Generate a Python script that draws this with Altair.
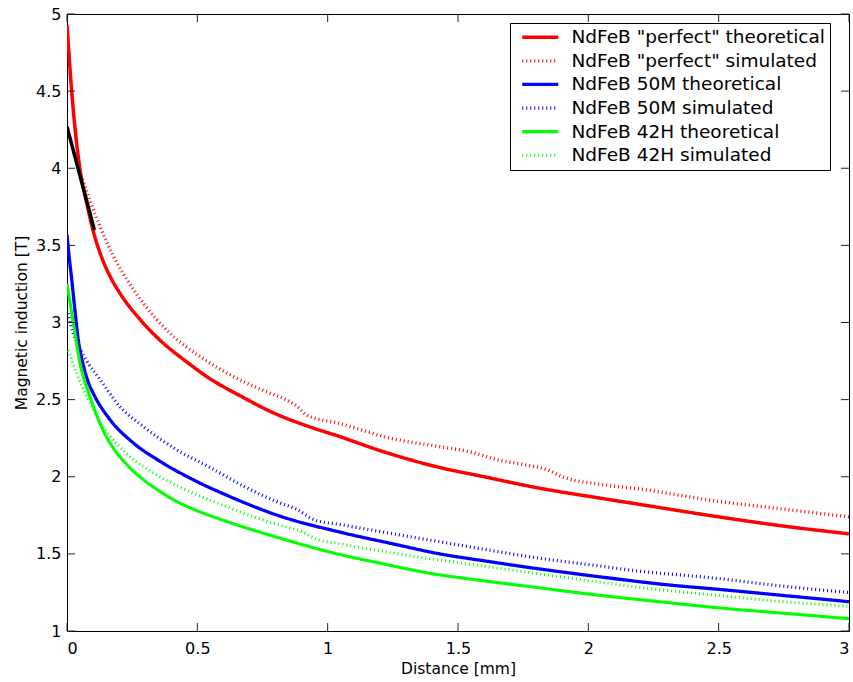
import altair as alt
import pandas as pd

# ---- data ----
series_names = [
    'NdFeB "perfect" theoretical',
    'NdFeB "perfect" simulated',
    'NdFeB 50M theoretical',
    'NdFeB 50M simulated',
    'NdFeB 42H theoretical',
    'NdFeB 42H simulated',
]
series_colors = ["#ff0000", "#ff0000", "#0000ff", "#0000ff", "#00ff00", "#00ff00"]

red_theo_x = [0, 0.018, 0.05, 0.075, 0.101, 0.127, 0.165, 0.203, 0.28, 0.357, 0.459, 0.549, 0.664, 0.791, 0.92, 1.047, 1.2, 1.43, 1.6, 1.8, 2.05, 2.2, 2.5, 2.75, 3.0]
red_theo_y = [4.93, 4.50, 3.99, 3.78, 3.59, 3.45, 3.30, 3.19, 3.02, 2.885, 2.745, 2.635, 2.525, 2.415, 2.33, 2.26, 2.17, 2.06, 2.00, 1.93, 1.86, 1.82, 1.74, 1.68, 1.63]

red_sim_x = [0.06, 0.088, 0.127, 0.178, 0.229, 0.293, 0.395, 0.51, 0.638, 0.766, 0.84, 0.88, 0.92, 1.047, 1.24, 1.43, 1.55, 1.65, 1.75, 1.85, 1.9, 2.05, 2.2, 2.5, 2.75, 3.0]
red_sim_y = [3.93, 3.79, 3.62, 3.43, 3.28, 3.125, 2.93, 2.78, 2.65, 2.55, 2.50, 2.46, 2.40, 2.345, 2.25, 2.195, 2.16, 2.11, 2.08, 2.04, 2.00, 1.95, 1.92, 1.84, 1.79, 1.74]

blue_theo_x = [0, 0.008, 0.018, 0.031, 0.043, 0.053, 0.063, 0.08, 0.101, 0.165, 0.254, 0.357, 0.485, 0.613, 0.817, 1.05, 1.25, 1.43, 1.6, 1.78, 2.05, 2.3, 2.5, 2.75, 3.0]
blue_theo_y = [3.57, 3.43, 3.28, 3.07, 2.89, 2.795, 2.72, 2.62, 2.54, 2.37, 2.22, 2.10, 1.98, 1.88, 1.745, 1.64, 1.565, 1.50, 1.455, 1.41, 1.35, 1.30, 1.27, 1.23, 1.19]

blue_sim_x = [0.005, 0.024, 0.05, 0.076, 0.127, 0.203, 0.293, 0.421, 0.549, 0.676, 0.817, 0.88, 0.95, 1.05, 1.2, 1.39, 1.6, 1.78, 2.05, 2.16, 2.5, 2.75, 3.0]
blue_sim_y = [3.06, 2.93, 2.83, 2.75, 2.63, 2.455, 2.325, 2.175, 2.06, 1.94, 1.83, 1.79, 1.72, 1.69, 1.645, 1.59, 1.53, 1.48, 1.42, 1.395, 1.34, 1.29, 1.25]

green_theo_x = [0, 0.005, 0.024, 0.05, 0.088, 0.139, 0.18, 0.229, 0.29, 0.357, 0.42, 0.485, 0.613, 0.791, 1.05, 1.2, 1.39, 1.6, 1.78, 2.05, 2.3, 2.5, 2.75, 3.0]
green_theo_y = [3.25, 3.20, 3.00, 2.735, 2.52, 2.30, 2.18, 2.08, 1.985, 1.905, 1.84, 1.79, 1.71, 1.615, 1.495, 1.44, 1.375, 1.325, 1.287, 1.23, 1.185, 1.15, 1.115, 1.08]

green_sim_x = [0.005, 0.037, 0.076, 0.139, 0.229, 0.357, 0.485, 0.613, 0.75, 0.85, 0.9, 0.95, 1.05, 1.2, 1.39, 1.6, 1.78, 2.05, 2.16, 2.5, 2.75, 3.0]
green_sim_y = [2.82, 2.67, 2.52, 2.325, 2.15, 2.00, 1.893, 1.806, 1.72, 1.67, 1.645, 1.60, 1.565, 1.52, 1.47, 1.42, 1.378, 1.315, 1.29, 1.23, 1.19, 1.16]

black_x = [0, 0.105]
black_y = [4.27, 3.60]

x_ticks = [0, 0.5, 1, 1.5, 2, 2.5, 3]
y_ticks = [1, 1.5, 2, 2.5, 3, 3.5, 4, 4.5, 5]

# ---- build tables ----
all_x = [red_theo_x, red_sim_x, blue_theo_x, blue_sim_x, green_theo_x, green_sim_x]
all_y = [red_theo_y, red_sim_y, blue_theo_y, blue_sim_y, green_theo_y, green_sim_y]
rows = []
for name, xs, ys in zip(series_names, all_x, all_y):
    for i, (xv, yv) in enumerate(zip(xs, ys)):
        rows.append({"series": name, "x": xv, "y": yv, "i": i})
df = pd.DataFrame(rows)
df_black = pd.DataFrame({"x": black_x, "y": black_y, "i": range(len(black_x))})
df_xt = pd.DataFrame({"t": x_ticks})
df_yt = pd.DataFrame({"t": y_ticks})

W, H = 782, 617
FONT = "DejaVu Sans"
xscale = alt.Scale(domain=[0, 3], nice=False, zero=False)
yscale = alt.Scale(domain=[1, 5], nice=False, zero=False)
x_axis = alt.Axis(values=x_ticks, format="~g", title="Distance [mm]",
                  labelPadding=9, titlePadding=5)
y_axis = alt.Axis(values=y_ticks, format="~g", title="Magnetic induction [T]",
                  labelPadding=6, titlePadding=6)

dashes = [[1, 0], [1, 3], [1, 0], [1, 3], [1, 0], [1, 3]]
widths = [3.5, 3, 3.5, 3, 3.5, 3]

legend = alt.Legend(
    title=None, orient="none", legendX=443, legendY=9,
    labelFont=FONT, labelFontSize=18.5, labelColor="black", labelLimit=500,
    symbolType="M-9,0L9,0", symbolSize=16, symbolOffset=16, labelOffset=22,
    symbolDash=alt.ExprRef("indexof(datum.value, 'simulated') >= 0 ? [1, 2] : [1, 0]"),
    symbolStrokeWidth=alt.ExprRef("indexof(datum.value, 'simulated') >= 0 ? 2 : 3.5"),
    padding=5, rowPadding=4.6, strokeColor="black", fillColor="white",
)

lines = alt.Chart(df).mark_line(interpolate="monotone", clip=True).encode(
    x=alt.X("x:Q", scale=xscale, axis=x_axis),
    y=alt.Y("y:Q", scale=yscale, axis=y_axis),
    color=alt.Color("series:N", scale=alt.Scale(domain=series_names, range=series_colors), legend=legend),
    strokeDash=alt.StrokeDash("series:N", scale=alt.Scale(domain=series_names, range=dashes), legend=None),
    strokeWidth=alt.StrokeWidth("series:N", scale=alt.Scale(domain=series_names, range=widths), legend=None),
    order=alt.Order("i:Q"),
)

black = alt.Chart(df_black).mark_line(color="black", strokeWidth=3.5, clip=True).encode(
    x=alt.X("x:Q", scale=xscale, axis=x_axis),
    y=alt.Y("y:Q", scale=yscale, axis=y_axis),
    order=alt.Order("i:Q"),
)

tick_color = "#222222"
xt_bottom = alt.Chart(df_xt).mark_rule(color=tick_color, strokeWidth=1).encode(
    x=alt.X("t:Q", scale=xscale, axis=x_axis), y=alt.value(H), y2=alt.value(H - 8))
xt_top = alt.Chart(df_xt).mark_rule(color=tick_color, strokeWidth=1).encode(
    x=alt.X("t:Q", scale=xscale, axis=x_axis), y=alt.value(0), y2=alt.value(8))
yt_left = alt.Chart(df_yt).mark_rule(color=tick_color, strokeWidth=1).encode(
    y=alt.Y("t:Q", scale=yscale, axis=y_axis), x=alt.value(0), x2=alt.value(8))
yt_right = alt.Chart(df_yt).mark_rule(color=tick_color, strokeWidth=1).encode(
    y=alt.Y("t:Q", scale=yscale, axis=y_axis), x=alt.value(W), x2=alt.value(W - 8))

chart = alt.layer(lines, black, xt_bottom, xt_top, yt_left, yt_right).properties(
    width=W, height=H,
    autosize=alt.AutoSizeParams(type="none"),
    padding={"left": 67, "top": 14, "right": 4, "bottom": 51},
    background="white",
).configure_view(
    stroke="black", strokeWidth=1,
).configure_axis(
    grid=False, domain=False, ticks=True, tickSize=0, tickOpacity=0,
    labelFont=FONT, labelFontSize=16, labelColor="black",
    titleFont=FONT, titleFontSize=15.5, titleFontWeight="normal", titleColor="black",
)

chart.save("out.html", embed_options={"renderer": "svg", "actions": False})
